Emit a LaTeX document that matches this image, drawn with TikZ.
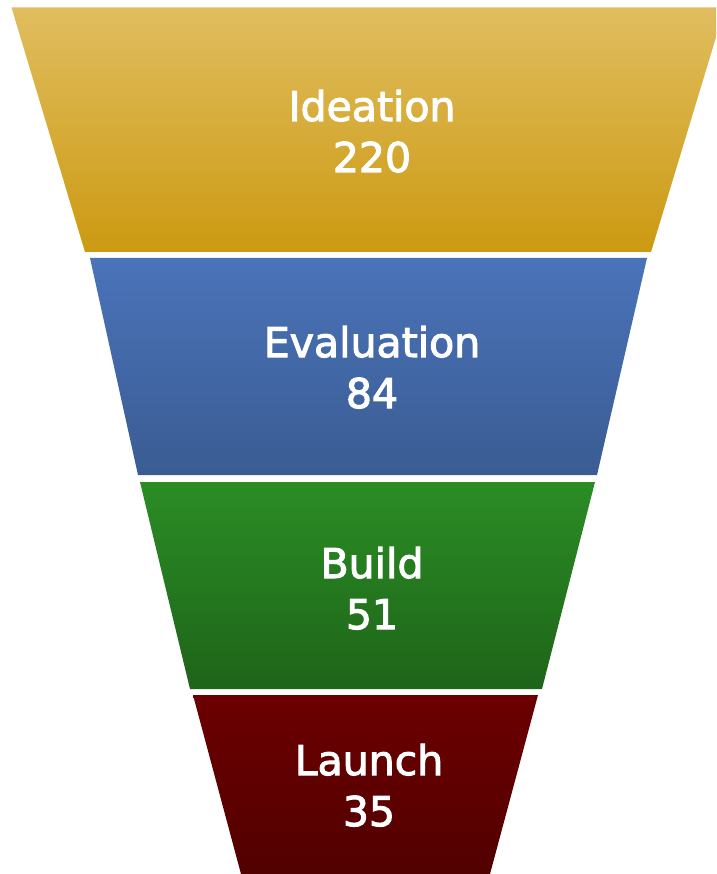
\documentclass[tikz,border=0pt]{standalone}
\usepackage{fontspec}
\newfontfamily\lblfont[FakeBold=2.5]{DejaVu Sans}
\definecolor{yTop}{HTML}{E0BD5F}
\definecolor{yBot}{HTML}{CC9A12}
\definecolor{bTop}{HTML}{4A73B9}
\definecolor{bBot}{HTML}{3B5C93}
\definecolor{gTop}{HTML}{2B8D25}
\definecolor{gBot}{HTML}{1E6419}
\definecolor{rTop}{HTML}{6C0000}
\definecolor{rBot}{HTML}{520000}
\begin{document}
\begin{tikzpicture}[x=1pt,y=-1pt,
  lbl/.style={text=white,font=\lblfont\fontsize{41}{51}\selectfont,align=center,inner sep=0pt}]
\useasboundingbox (0,0) rectangle (716,874);
\begin{scope}
\clip (0,0) rectangle (716,874);
\shade[top color=yTop,bottom color=yBot] (11.5,7.5) -- (725,7.5) -- (651,252) -- (85,252) -- cycle;
\shade[top color=bTop,bottom color=bBot] (90,258) -- (647,258) -- (597,475) -- (138,475) -- cycle;
\shade[top color=gTop,bottom color=gBot] (140,482) -- (595,482) -- (542,689) -- (190,689) -- cycle;
\shade[top color=rTop,bottom color=rBot] (193,695) -- (538,695) -- (490,874) -- (241,874) -- cycle;
\end{scope}
\node[lbl,anchor=base] (t1) at (372,121) {Ideation};
\node[lbl,anchor=base] (n1) at (372,172) {220};
\node[lbl,anchor=base] (t2) at (372,357) {Evaluation};
\node[lbl,anchor=base] (n2) at (372,408) {84};
\node[lbl,anchor=base] (t3) at (372,578) {Build};
\node[lbl,anchor=base] (n3) at (372,629) {51};
\node[lbl,anchor=base] (t4) at (369,775) {Launch};
\node[lbl,anchor=base] (n4) at (369,826) {35};
\end{tikzpicture}
\end{document}
